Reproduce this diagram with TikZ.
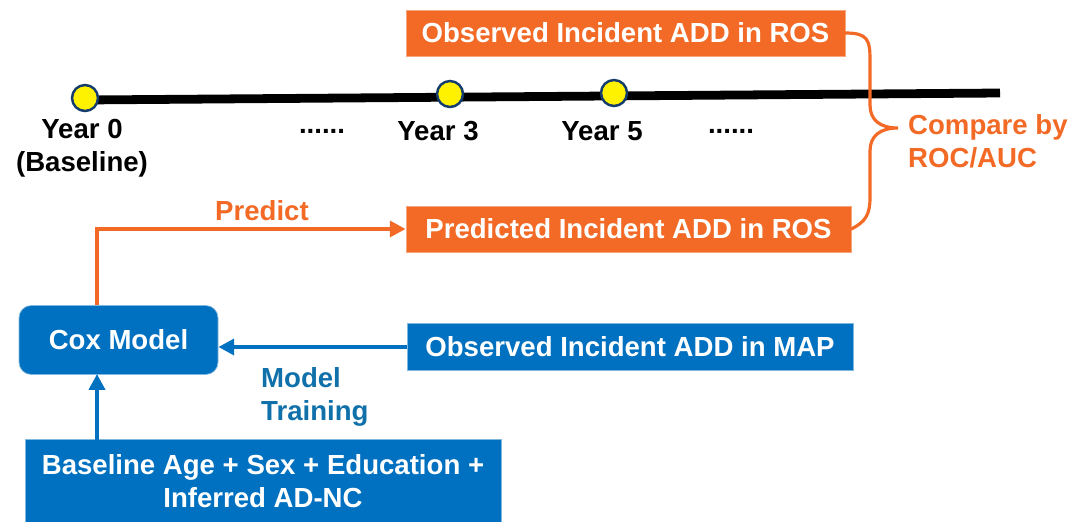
\documentclass[tikz,border=0pt]{standalone}
\usepackage{fontspec}
\setmainfont{Liberation Sans}
\usepackage{tikz}
\usetikzlibrary{arrows.meta}

\definecolor{addorange}{RGB}{242,106,37}
\definecolor{addblue}{RGB}{0,112,192}
\definecolor{trainblue}{RGB}{16,112,170}
\definecolor{dotyellow}{RGB}{255,242,0}
\definecolor{dotrim}{RGB}{20,60,110}

\tikzset{
    txt/.style={font=\bfseries\fontsize{15.7}{18.8}\selectfont},
    obox/.style={txt, fill=addorange, text=white, draw=addorange!60, line width=0.4pt, minimum height=46*0.02cm, inner xsep=8pt},
    bbox/.style={txt, fill=addblue, text=white, draw=addblue!50, line width=0.4pt, minimum height=47*0.02cm, inner xsep=8pt},
    yeardot/.style={circle, fill=dotyellow, draw=dotrim, line width=1.4pt, minimum size=26*0.02cm, inner sep=0pt},
    oarrow/.style={draw=addorange, line width=2.2pt, -{Triangle[length=9pt,width=9pt]}},
    barrow/.style={draw=addblue, line width=2.2pt, -{Triangle[length=9pt,width=9pt]}},
}

\begin{document}
\begin{tikzpicture}[x=0.02cm, y=-0.02cm]
            \useasboundingbox (0,0) rectangle (1075,521);
            % Timeline
            \coordinate (tstart) at (85,100);
            \coordinate (tend) at (1000,93);
            \draw[line width=5pt] (tstart) -- (tend);
            \node[yeardot] (y0) at (85,98) {};
            \node[yeardot] (y3) at (450,94) {};
            \node[yeardot] (y5) at (614,93) {};
            \node[txt, align=center] (y0lab) at (82,148) {Year 0\\(Baseline)};
            \node[txt] (dotsa) at (322,131) {\textbf{......}};
            \node[txt] (y3lab) at (438,131) {Year 3};
            \node[txt] (y5lab) at (602,131) {Year 5};
            \node[txt] (dotsb) at (731,131) {\textbf{......}};
            % Boxes
            \node[obox, minimum width=439*0.02cm] (obsros) at (625.5,33) {Observed Incident ADD in ROS};
            \node[obox, minimum width=445*0.02cm] (predros) at (628.5,229) {Predicted Incident ADD in ROS};
            \node[bbox, minimum width=446*0.02cm] (obsmap) at (630,347) {Observed Incident ADD in MAP};
            \node[bbox, rounded corners=7pt, minimum width=199*0.02cm, minimum height=69*0.02cm] (cox) at (118.5,340) {Cox Model};
            \node[bbox, align=center, minimum width=476*0.02cm, minimum height=95*0.02cm] (base) at (263,487) {};
            \node[txt, text=white, align=center] (basetxt) at (263,481) {Baseline Age + Sex + Education +\\Inferred AD-NC};
            % Edges
            \draw[oarrow] (97,305) |- (predros.west);
            \node[txt, text=addorange] (predlab) at (262,211) {Predict};
            \draw[barrow] (obsmap.west) -- (cox.east |- obsmap.west);
            \node[txt, text=trainblue, align=left, anchor=north west] (trainlab) at (255,361) {Model\\Training};
            \draw[barrow] (97,440) -- (97,374);
            % Brace
            \coordinate (tip) at (898,128);
            \draw[addorange, line width=1.8pt, line cap=round]
                (obsros.east) .. controls (868,33) and (870,40) .. (870,60)
                -- (870,105) .. controls (870,120) and (880,128) .. (tip)
                .. controls (880,128) and (870,136) .. (870,151)
                -- (870,198) .. controls (870,215) and (865,222) .. (predros.east);
            \node[txt, text=addorange, align=left, anchor=west] (cmplab) at (902,141) {Compare by\\ROC/AUC};
        \end{tikzpicture}
\end{document}
